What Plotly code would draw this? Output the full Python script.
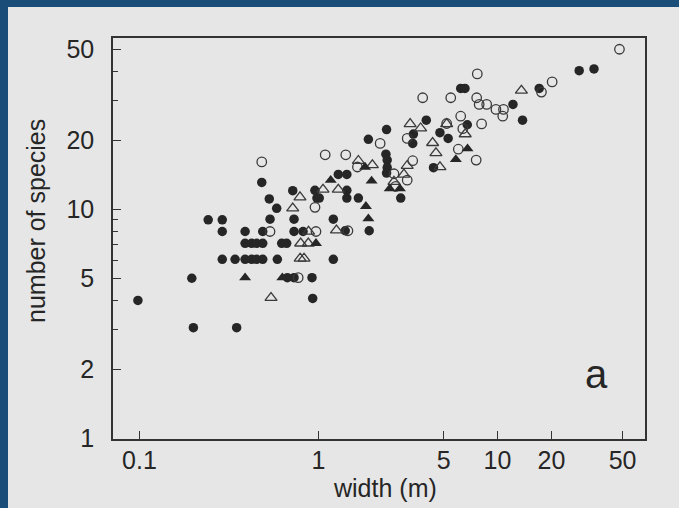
import plotly.graph_objects as go

# ---- data (width in m, number of species) ----
filled_circle_x = [0.098, 0.196, 0.2, 0.242, 0.29, 0.29, 0.29, 0.342, 0.349, 0.389,
                   0.389, 0.389, 0.423, 0.423, 0.451, 0.451, 0.488, 0.488, 0.488, 0.482,
                   0.531, 0.536, 0.584, 0.589, 0.623, 0.664, 0.67, 0.718, 0.73, 0.73,
                   0.73, 0.82, 0.92, 0.928, 0.955, 0.98, 1.01, 1.21, 1.21, 1.29,
                   1.44, 1.44, 1.44, 1.41, 1.67, 1.9, 1.92, 2.4, 2.38, 2.42,
                   2.42, 2.4, 2.88, 3.39, 3.36, 4.0, 4.39, 4.77, 5.3, 6.23,
                   6.58, 6.78, 12.2, 13.8, 17.1, 28.6, 34.6]
filled_circle_y = [4.0, 5.0, 3.04, 9.0, 9.0, 8.0, 6.05, 6.05, 3.04, 8.0,
                   7.1, 6.05, 7.1, 6.05, 7.1, 6.05, 8.0, 7.1, 6.05, 13.1,
                   11.1, 9.05, 10.1, 6.05, 7.1, 7.1, 5.03, 12.06, 9.05, 8.0,
                   5.03, 8.0, 5.03, 4.08, 12.1, 11.2, 11.2, 9.05, 6.05, 14.2,
                   14.2, 12.1, 11.2, 8.06, 11.2, 20.2, 8.06, 22.3, 17.4, 16.4,
                   15.2, 14.4, 11.2, 21.3, 19.4, 24.5, 15.2, 21.6, 20.4, 33.7,
                   33.7, 23.4, 28.7, 24.5, 33.7, 40.3, 41.0]

open_circle_x = [0.482, 0.536, 0.77, 0.968, 0.956, 1.09, 1.42, 1.65, 2.21, 2.64,
                 2.7, 3.13, 3.13, 3.36, 3.82, 5.48, 5.2, 6.23, 6.04, 6.4,
                 7.71, 7.65, 7.9, 8.7, 9.8, 10.8, 10.7, 8.15, 7.6, 17.6,
                 20.2, 48.0, 1.46]
open_circle_y = [16.1, 8.0, 5.03, 8.0, 10.2, 17.3, 17.3, 15.3, 19.4, 14.3,
                 12.6, 13.4, 20.4, 16.3, 30.7, 30.7, 23.7, 25.5, 18.3, 22.5,
                 39.0, 30.7, 28.7, 28.7, 27.3, 27.3, 25.5, 23.6, 16.4, 32.5,
                 36.0, 50.0, 8.06]

open_triangle_x = [0.543, 0.718, 0.788, 0.795, 0.877, 0.79, 0.83, 0.88, 1.06, 1.29,
                   1.26, 1.67, 2.0, 3.0, 2.64, 3.13, 3.25, 3.72, 4.34, 4.53,
                   4.77, 5.2, 6.6, 13.6]
open_triangle_y = [4.11, 10.1, 11.3, 7.1, 7.1, 6.1, 6.1, 8.0, 12.2, 12.2,
                   8.1, 16.3, 15.6, 14.2, 13.2, 15.5, 23.6, 22.6, 19.5, 17.6,
                   15.3, 23.6, 21.3, 33.0]

filled_triangle_x = [0.389, 0.628, 0.968, 1.17, 1.98, 1.84, 1.9, 1.82, 2.5, 2.85,
                     5.85, 6.8]
filled_triangle_y = [5.03, 5.03, 7.1, 13.4, 13.3, 10.3, 9.1, 15.3, 12.3, 12.3,
                     16.5, 18.4]

x_tick_vals = [0.1, 1, 5, 10, 20, 50]
x_tick_text = ["0.1", "1", "5", "10", "20", "50"]
y_tick_vals = [1, 2, 5, 10, 20, 50]
y_tick_text = ["1", "2", "5", "10", "20", "50"]
y_minor_vals = [3, 4, 6, 7, 8, 9, 30, 40]

INK = "#262626"
PAGE = "#e6e6e6"
BLUE = "#1a4e78"
FONT = "Liberation Sans, Arial, Helvetica, sans-serif"

fig = go.Figure()
fig.add_trace(go.Scatter(x=filled_circle_x, y=filled_circle_y, mode="markers",
                         marker=dict(symbol="circle", size=9.5, color=INK,
                                     line=dict(width=0))))
fig.add_trace(go.Scatter(x=open_circle_x, y=open_circle_y, mode="markers",
                         marker=dict(symbol="circle-open", size=9.5, color="#3a3a3a",
                                     line=dict(width=1.3, color="#3a3a3a"))))
fig.add_trace(go.Scatter(x=open_triangle_x, y=open_triangle_y, mode="markers",
                         marker=dict(symbol="triangle-up-open", size=10.5, color="#3a3a3a",
                                     line=dict(width=1.3, color="#3a3a3a"))))
fig.add_trace(go.Scatter(x=filled_triangle_x, y=filled_triangle_y, mode="markers",
                         marker=dict(symbol="triangle-up", size=10.5, color=INK,
                                     line=dict(width=0))))

L, R, T, B = 113, 34, 38, 69
W, H = 679, 508
pw, ph = W - L - R, H - T - B

def px(xp):
    return (xp - L) / pw

def py(yp):
    return (H - B - yp) / ph

fig.update_layout(
    width=W, height=H,
    margin=dict(l=L, r=R, t=T, b=B, pad=0),
    paper_bgcolor=PAGE, plot_bgcolor=PAGE,
    showlegend=False,
    font=dict(family=FONT, color=INK),
    xaxis=dict(type="log", range=[-1.148, 1.824], showgrid=False, zeroline=False,
               showline=True, linecolor="#333333", linewidth=1.6, mirror=True,
               ticks="inside", ticklen=8, tickwidth=1.2, tickcolor="#333333",
               tickvals=x_tick_vals, ticktext=x_tick_text,
               tickfont=dict(size=25, color=INK), ticklabelstandoff=-2),
    yaxis=dict(type="log", range=[-0.003, 1.748], showgrid=False, zeroline=False,
               showline=True, linecolor="#333333", linewidth=1.6, mirror=True,
               ticks="inside", ticklen=8, tickwidth=1.2, tickcolor="#333333",
               tickvals=y_tick_vals, ticktext=y_tick_text,
               tickfont=dict(size=25, color=INK), ticklabelstandoff=12,
               minor=dict(tickvals=y_minor_vals, ticks="inside", ticklen=5,
                          tickwidth=1.2, tickcolor="#333333", showgrid=False)),
    shapes=[
        dict(type="rect", xref="paper", yref="paper", x0=px(0), x1=px(8),
             y0=py(H), y1=py(0), fillcolor=BLUE, line=dict(width=0), layer="above"),
        dict(type="rect", xref="paper", yref="paper", x0=px(0), x1=px(W),
             y0=py(7), y1=py(0), fillcolor=BLUE, line=dict(width=0), layer="above"),
    ],
    annotations=[
        dict(text="width (m)", xref="paper", yref="paper", x=px(385), y=py(488),
             showarrow=False, font=dict(size=25, color=INK), xanchor="center", yanchor="middle"),
        dict(text="number of species", xref="paper", yref="paper", x=px(36), y=py(221),
             showarrow=False, textangle=-90, font=dict(size=25, color=INK),
             xanchor="center", yanchor="middle"),
        dict(text="a", xref="paper", yref="paper", x=px(596), y=py(374),
             showarrow=False, font=dict(size=40, color=INK), xanchor="center", yanchor="middle"),
    ],
)

fig.write_html("out.html",
               config={"displayModeBar": False},
               post_script="document.body.style.margin='0';document.body.style.overflow='hidden';")
